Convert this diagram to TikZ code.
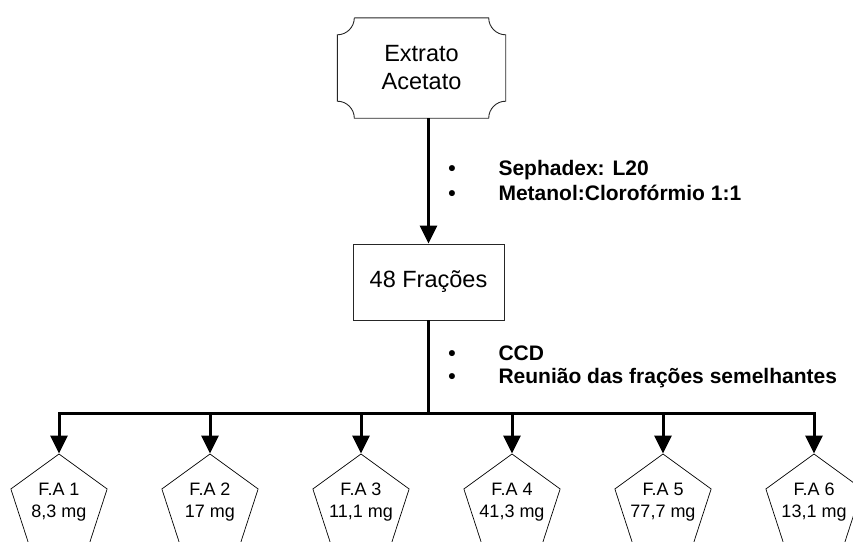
\documentclass[tikz,border=0pt]{standalone}
\usepackage{fontspec}
\setmainfont{Liberation Sans}
\usetikzlibrary{arrows.meta,shapes.geometric}
\begin{document}
\begin{tikzpicture}[x=1pt,y=-1pt,
  boxline/.style={draw=black!85,line width=0.9pt},
  flow/.style={line width=3pt,-{Triangle[width=17pt,length=18pt]}},
  bus/.style={line width=3pt},
  pent/.style={regular polygon,regular polygon sides=5,minimum size=101.2pt,inner sep=0pt,
    draw=black,line width=0.7pt},
  penttext/.style={align=center,inner sep=0pt,font=\fontsize{18}{22}\selectfont},
  bul/.style={anchor=base,font=\bfseries\fontsize{21}{24}\selectfont},
  bultext/.style={anchor=base west,font=\bfseries\fontsize{21}{24}\selectfont}]
\useasboundingbox (0,0) rectangle (853,541);
% Extrato box
\node[minimum width=168pt,minimum height=100pt,inner sep=0pt,align=center,
  font=\fontsize{23.5}{28}\selectfont] (ext) at (421.5,68) {Extrato\\Acetato};
\draw[boxline] ([xshift=17pt]ext.north west) -- ([xshift=-17pt]ext.north east)
  arc[start angle=180,end angle=270,radius=17pt]
  -- ([yshift=17pt]ext.south east)
  arc[start angle=90,end angle=180,radius=17pt]
  -- ([xshift=17pt]ext.south west)
  arc[start angle=0,end angle=90,radius=17pt]
  -- ([yshift=-17pt]ext.north west)
  arc[start angle=270,end angle=360,radius=17pt];
% 48 Fracoes box
\node[boxline,minimum width=151pt,minimum height=76pt,inner sep=0pt,
  font=\fontsize{23.5}{26}\selectfont] (fr) at (428.5,282) {48 Frações};
\draw[flow] (fr.north |- ext.south) -- (fr.north);
% labels
\node[bul] (b1) at (452,175) {•};
\node[bultext] (t1) at (495,175) {Sephadex: L20};
\node[bul] (b2) at (452,200) {•};
\node[bultext] (t2) at (495,200) {Metanol:Clorofórmio 1:1};
\node[bul] (b3) at (452,360) {•};
\node[bultext] (t3) at (495,360) {CCD};
\node[bul] (b4) at (452,383) {•};
\node[bultext] (t4) at (495,383) {Reunião das frações semelhantes};
% pentagons
\foreach \i/\x/\t in {1/59/{F.A 1\\8,3 mg},2/210/{F.A 2\\17 mg},3/361/{F.A 3\\11,1 mg},
                      4/512/{F.A 4\\41,3 mg},5/663/{F.A 5\\77,7 mg},6/814/{F.A 6\\13,1 mg}}{
  \node[pent] (f\i) at (\x,504.6) {};
  \node[penttext] (ft\i) at (\x,502) {\t};
}
% bus
\coordinate (busL) at (59,413);
\coordinate (busR) at (814,413);
\draw[line width=3.5pt] (fr.south) -- (fr.south |- busL);
\draw[bus,line cap=rect] (busL) -- (busR);
\foreach \i in {1,...,6}{
  \draw[flow] (f\i.north |- busL) -- (f\i.north);
}
\end{tikzpicture}
\end{document}
